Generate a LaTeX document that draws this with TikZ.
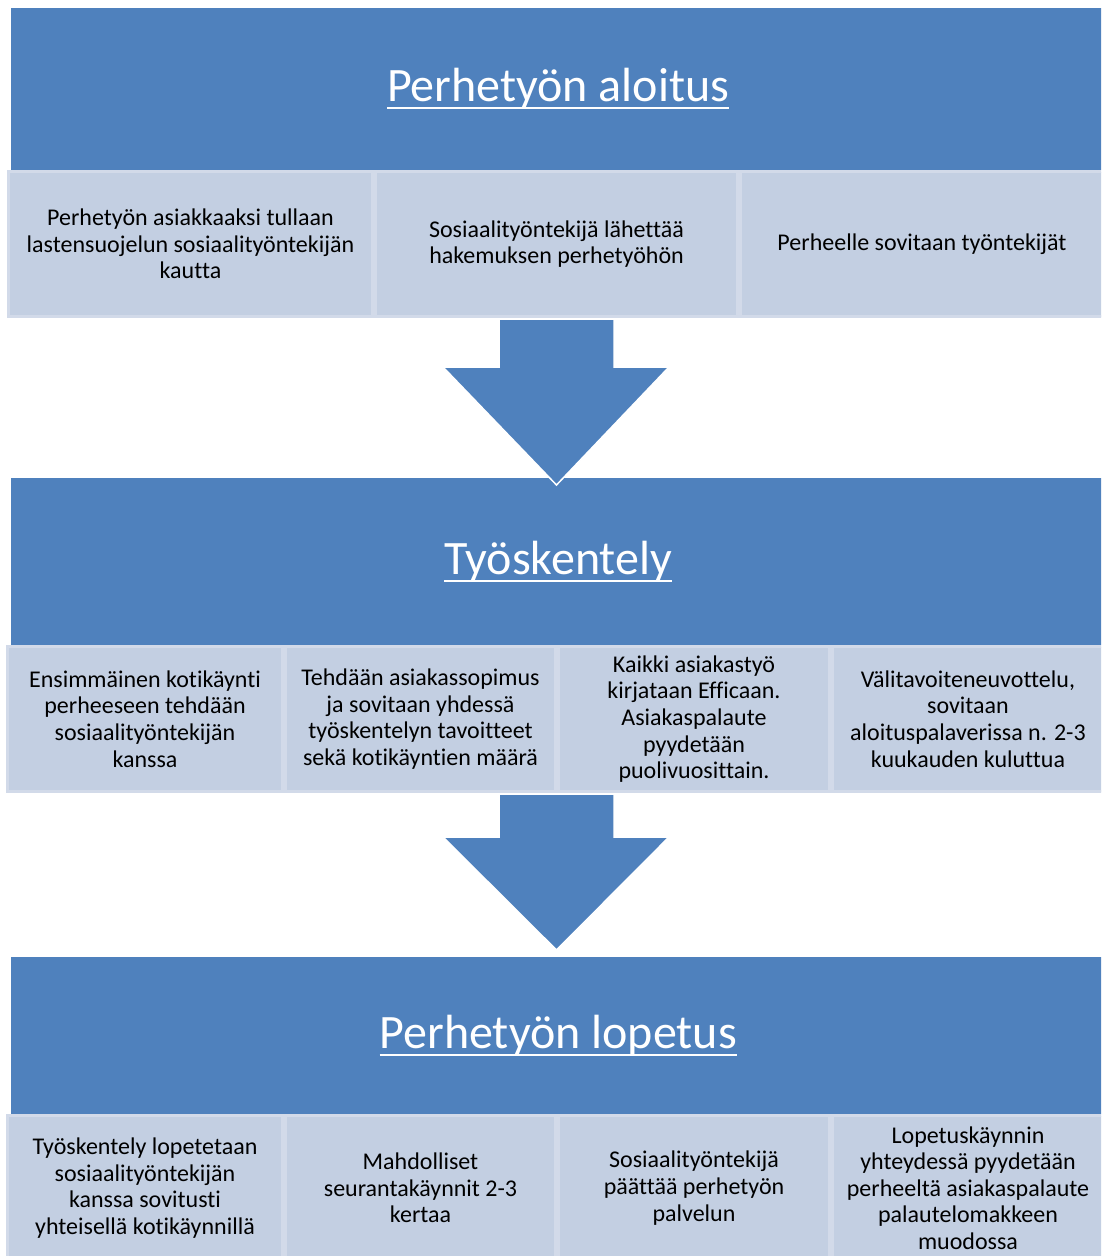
\documentclass[tikz,border=0pt]{standalone}
\usepackage{fontspec}
\setmainfont{Carlito}[Ligatures={NoCommon}]
\definecolor{bandblue}{HTML}{4F81BD}
\definecolor{cellfill}{HTML}{C3CFE2}
\definecolor{cellline}{HTML}{D2DAE9}
\newcommand{\titleul}[1]{\setbox0\hbox{#1}\rlap{\rule[-7.5pt]{\wd0}{2.4pt}}\box0}
\begin{document}
\begin{tikzpicture}[x=1pt,y=-1pt,
  bandbox/.style={fill=bandblue, draw=none, inner sep=0pt, anchor=north west,
    font=\fontsize{48}{54}\selectfont, text=white},
  cellbox/.style={fill=cellfill, draw=cellline, line width=3pt, inner sep=0pt,
    align=center, font=\fontsize{24}{26.6}\selectfont, text=black},
  bigarrow/.style={fill=bandblue, draw=white, line width=1.5pt, line join=miter}]
\useasboundingbox (0,0) rectangle (1101,1256);
\clip (0,0) rectangle (1101,1256);

% --- Stage 1
\node[bandbox, minimum width=1094pt, minimum height=162pt] (band1) at (11,8)
  {\titleul{Perhetyön aloitus}};
\node[cellbox, minimum width=364pt, minimum height=145pt] (c11) at (190.5,244)
  {Perhetyön asiakkaaksi tullaan\\lastensuojelun sosiaalityöntekijän\\kautta};
\node[cellbox, minimum width=362pt, minimum height=145pt] (c12) at (556.5,244)
  {Sosiaalityöntekijä lähettää\\hakemuksen perhetyöhön};
\node[cellbox, minimum width=363pt, minimum height=145pt] (c13) at (922,244)
  {Perheelle sovitaan työntekijät};

% --- Stage 2
\node[bandbox, minimum width=1094pt, minimum height=167pt] (band2) at (11,478)
  {\titleul{Työskentely}};
\draw[bigarrow] (499,319) -- (614,319) -- (614,367) -- (669,367) -- (556.5,485)
  -- (443,367) -- (499,367) -- cycle;
\node[cellbox, minimum width=275pt, minimum height=145pt] (c21) at (145,719)
  {Ensimmäinen kotikäynti\\perheeseen tehdään\\sosiaalityöntekijän\\kanssa};
\node[cellbox, minimum width=270pt, minimum height=145pt] (c22) at (420.5,719)
  {Tehdään asiakassopimus\\ja sovitaan yhdessä\\työskentelyn tavoitteet\\sekä kotikäyntien määrä};
\node[cellbox, minimum width=271pt, minimum height=145pt] (c23) at (694,719)
  {Kaikki asiakastyö\\kirjataan Efficaan.\\Asiakaspalaute\\pyydetään\\puolivuosittain.};
\node[cellbox, minimum width=271pt, minimum height=145pt] (c24) at (968,719)
  {Välitavoiteneuvottelu,\\sovitaan\\aloituspalaverissa n. 2-3\\kuukauden kuluttua};

% --- Stage 3
\node[bandbox, minimum width=1094pt, minimum height=157pt] (band3) at (11,957)
  {\titleul{Perhetyön lopetus}};
\draw[bigarrow] (499,794) -- (614,794) -- (614,837) -- (669,837) -- (556.5,950)
  -- (443,837) -- (499,837) -- cycle;
\node[cellbox, minimum width=275pt, minimum height=145pt] (c31) at (145,1188)
  {Työskentely lopetetaan\\sosiaalityöntekijän\\kanssa sovitusti\\yhteisellä kotikäynnillä};
\node[cellbox, minimum width=270pt, minimum height=145pt] (c32) at (420.5,1188)
  {Mahdolliset\\seurantakäynnit 2-3\\kertaa};
\node[cellbox, minimum width=271pt, minimum height=145pt] (c33) at (694,1188)
  {Sosiaalityöntekijä\\päättää perhetyön\\palvelun};
\node[cellbox, minimum width=271pt, minimum height=145pt] (c34) at (968,1188)
  {Lopetuskäynnin\\yhteydessä pyydetään\\perheeltä asiakaspalaute\\palautelomakkeen\\muodossa};
\end{tikzpicture}
\end{document}
